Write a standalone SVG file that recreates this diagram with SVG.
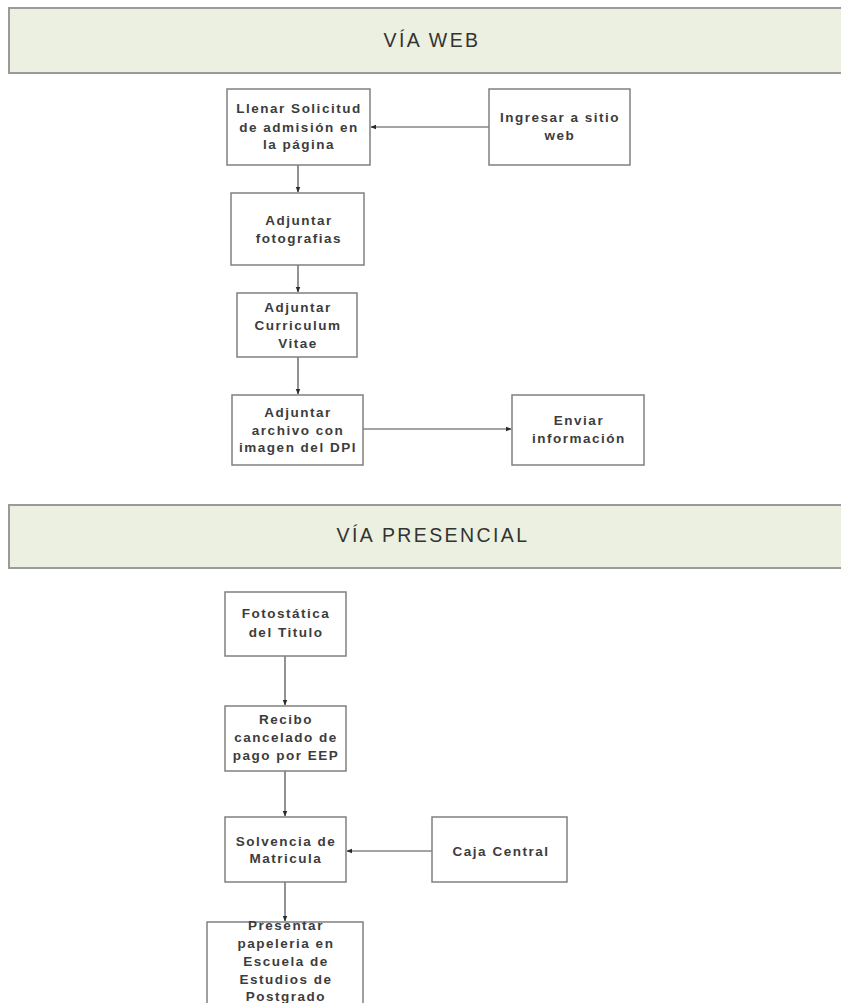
<svg xmlns="http://www.w3.org/2000/svg" width="841" height="1003" viewBox="0 0 841 1003">
<defs>
<style>
.banner{fill:#ecf0e0;stroke:#9a9a9a;stroke-width:2}
.btxt{font-family:"Liberation Sans",Arial,sans-serif;font-size:19.5px;letter-spacing:2.4px;fill:#333;text-anchor:middle}
.box{fill:#fff;stroke:#808080;stroke-width:1.5}
.t{font-family:"Liberation Sans",Arial,sans-serif;font-size:13.5px;letter-spacing:1.5px;font-weight:bold;fill:#3c3c3c;text-anchor:middle}
.c{stroke:#4a4a4a;stroke-width:1.2;fill:none;marker-end:url(#ah)}
</style>
<marker id="ah" viewBox="0 0 10 10" refX="9" refY="5" markerWidth="6" markerHeight="6" orient="auto" markerUnits="userSpaceOnUse">
<path d="M0,1 L10,5 L0,9 z" fill="#2a2a2a"/>
</marker>
</defs>
<rect width="841" height="1003" fill="#fff"/>
<g id="banner-web">
<rect class="banner" x="9" y="8" width="840" height="65"/>
<text class="btxt" x="432" y="47">VÍA WEB</text>
</g>
<g id="banner-presencial">
<rect class="banner" x="9" y="505" width="840" height="63"/>
<text class="btxt" x="433" y="542">VÍA PRESENCIAL</text>
</g>
<g id="connectors">
<line class="c" x1="489" y1="127" x2="371" y2="127"/>
<line class="c" x1="298" y1="165" x2="298" y2="192"/>
<line class="c" x1="298" y1="265" x2="298" y2="292"/>
<line class="c" x1="298" y1="357" x2="298" y2="394"/>
<line class="c" x1="363" y1="429" x2="511" y2="429"/>
<line class="c" x1="285" y1="656" x2="285" y2="705"/>
<line class="c" x1="285" y1="771" x2="285" y2="816"/>
<line class="c" x1="432" y1="851" x2="347" y2="851"/>
<line class="c" x1="285" y1="882" x2="285" y2="921"/>
</g>
<g id="n-llenar">
<rect class="box" x="227" y="89" width="143" height="76"/>
<text class="t" x="299" y="113">Llenar Solicitud</text>
<text class="t" x="299" y="132">de admisión en</text>
<text class="t" x="299" y="149">la página</text>
</g>
<g id="n-ingresar">
<rect class="box" x="489" y="89" width="141" height="76"/>
<text class="t" x="560" y="122">Ingresar a sitio</text>
<text class="t" x="560" y="140">web</text>
</g>
<g id="n-fotos">
<rect class="box" x="231" y="193" width="133" height="72"/>
<text class="t" x="299" y="225">Adjuntar</text>
<text class="t" x="299" y="243">fotografias</text>
</g>
<g id="n-cv">
<rect class="box" x="237" y="293" width="120" height="64"/>
<text class="t" x="298" y="312">Adjuntar</text>
<text class="t" x="298" y="330">Curriculum</text>
<text class="t" x="298" y="348">Vitae</text>
</g>
<g id="n-dpi">
<rect class="box" x="232" y="395" width="131" height="70"/>
<text class="t" x="298" y="417">Adjuntar</text>
<text class="t" x="298" y="435">archivo con</text>
<text class="t" x="298" y="452">imagen del DPI</text>
</g>
<g id="n-enviar">
<rect class="box" x="512" y="395" width="132" height="70"/>
<text class="t" x="579" y="425">Enviar</text>
<text class="t" x="579" y="443">información</text>
</g>
<g id="n-foto-titulo">
<rect class="box" x="225" y="592" width="121" height="64"/>
<text class="t" x="286" y="618">Fotostática</text>
<text class="t" x="286" y="637">del Titulo</text>
</g>
<g id="n-recibo">
<rect class="box" x="225" y="706" width="121" height="65"/>
<text class="t" x="286" y="724">Recibo</text>
<text class="t" x="286" y="742">cancelado de</text>
<text class="t" x="286" y="760">pago por EEP</text>
</g>
<g id="n-solvencia">
<rect class="box" x="225" y="817" width="121" height="65"/>
<text class="t" x="286" y="846">Solvencia de</text>
<text class="t" x="286" y="863">Matricula</text>
</g>
<g id="n-caja">
<rect class="box" x="432" y="817" width="135" height="65"/>
<text class="t" x="501" y="856">Caja Central</text>
</g>
<g id="n-presentar">
<rect class="box" x="207" y="922" width="156" height="90"/>
<text class="t" x="286" y="930">Presentar</text>
<text class="t" x="286" y="948">papeleria en</text>
<text class="t" x="286" y="966">Escuela de</text>
<text class="t" x="286" y="984">Estudios de</text>
<text class="t" x="286" y="1001">Postgrado</text>
</g>
</svg>
